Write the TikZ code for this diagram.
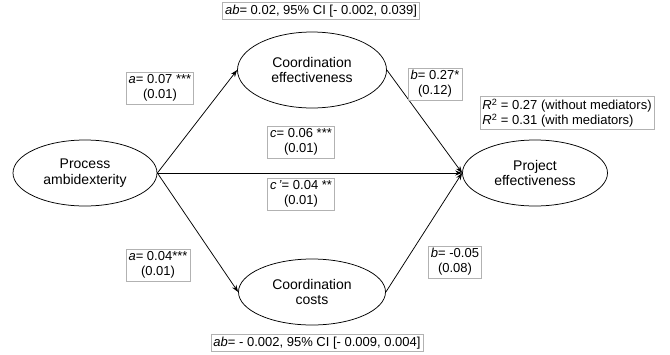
\documentclass[tikz,border=0pt]{standalone}
\usepackage{fontspec}
\setmainfont{Liberation Sans}
\usetikzlibrary{shapes.geometric,arrows.meta}
\begin{document}
\begin{tikzpicture}[x=1pt,y=-1pt,
  var/.style={ellipse,draw,line width=0.75pt,inner sep=0pt,align=center,font=\fontsize{14}{15.5}\selectfont},
  lab/.style={draw=black!30,line width=0.6pt,align=center,inner sep=2.5pt,font=\fontsize{13}{15}\selectfont},
  arr/.style={line width=0.75pt,-{Stealth[length=7pt,width=5pt]}}]
\useasboundingbox (0,0) rectangle (670,354);
\node[var,minimum width=144pt,minimum height=66pt] (pa) at (85,173) {Process\\ambidexterity};
\node[var,minimum width=149pt,minimum height=76pt] (ce) at (312,70) {Coordination\\effectiveness};
\node[var,minimum width=147pt,minimum height=66pt] (cc) at (312,292) {Coordination\\costs};
\node[var,minimum width=145pt,minimum height=66pt] (pe) at (535,173) {Project\\effectiveness};
\draw[arr] (pa.east) -- (ce.west);
\draw[arr] (pa.east) -- (cc.west);
\draw[arr] (pa.east) -- (pe.west);
\draw[arr] (ce.east) -- (pe.west);
\draw[arr] (cc.east) -- (pe.west);
\node[lab] (l1) at (321,11) {\textit{ab}= 0.02, 95\% CI [- 0.002, 0.039]};
\node[lab] (l2) at (160,88) {\textit{a}= 0.07 ***\\(0.01)};
\node[lab] (l3) at (435,84) {\textit{b}= 0.27*\\(0.12)};
\node[lab,align=left] (l4) at (567,113) {\textit{R}\textsuperscript{2} = 0.27 (without mediators)\\\textit{R}\textsuperscript{2} = 0.31 (with mediators)};
\node[lab] (l5) at (301,142) {\textit{c}= 0.06 ***\\(0.01)};
\node[lab] (l6) at (301,194) {\textit{c\,'}= 0.04 **\\(0.01)};
\node[lab] (l7) at (158,265) {\textit{a}= 0.04***\\(0.01)};
\node[lab] (l8) at (455,262) {\textit{b}= -0.05\\(0.08)};
\node[lab] (l9) at (317,343) {\textit{ab}= - 0.002, 95\% CI [- 0.009, 0.004]};
\end{tikzpicture}
\end{document}
